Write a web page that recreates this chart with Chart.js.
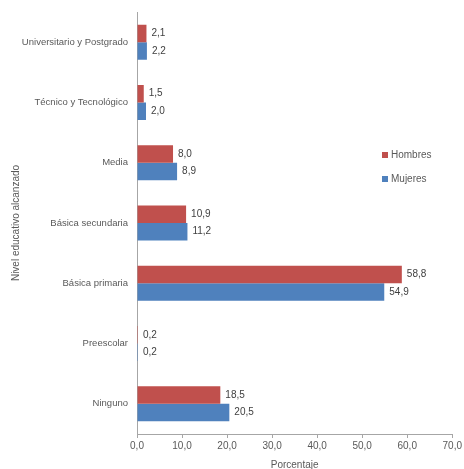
<!DOCTYPE html>
<html>
<head>
<meta charset="utf-8">
<script src="https://cdn.jsdelivr.net/npm/chart.js@4"></script>
<style>
  html, body { margin: 0; padding: 0; background: #fff; }
  #wrap { width: 464px; height: 469px; }
</style>
</head>
<body>
<div id="wrap"><canvas id="myChart" width="464" height="469"></canvas></div>
<script>
// datos
var niveles = ["Universitario y Postgrado", "Técnico y Tecnológico", "Media", "Básica secundaria", "Básica primaria", "Preescolar", "Ninguno"];
var hombres = [2.1, 1.5, 8.0, 10.9, 58.8, 0.2, 18.5];
var mujeres = [2.2, 2.0, 8.9, 11.2, 54.9, 0.2, 20.5];
var ticksX = ["0,0", "10,0", "20,0", "30,0", "40,0", "50,0", "60,0", "70,0"];

var fuente = "'Liberation Sans', sans-serif";
var gris = "#595959";

function coma(v) {
  return v.toFixed(1).replace(".", ",");
}

// etiquetas de valor al final de cada barra
var etiquetas = {
  id: "etiquetas",
  afterDatasetsDraw: function (chart) {
    var ctx = chart.ctx;
    ctx.save();
    ctx.font = "10px " + fuente;
    ctx.fillStyle = "#404040";
    ctx.textAlign = "left";
    ctx.textBaseline = "middle";
    chart.data.datasets.forEach(function (ds, i) {
      chart.getDatasetMeta(i).data.forEach(function (bar, j) {
        ctx.fillText(coma(ds.data[j]), bar.x + 5, bar.y);
      });
    });
    ctx.restore();
  }
};

// leyenda dentro del area
var leyenda = {
  id: "leyenda",
  afterDraw: function (chart) {
    var ctx = chart.ctx;
    ctx.save();
    ctx.font = "10px " + fuente;
    ctx.textBaseline = "middle";
    chart.data.datasets.forEach(function (ds, i) {
      var y = 155 + i * 24;
      ctx.fillStyle = ds.backgroundColor;
      ctx.fillRect(382, y - 3, 6, 6);
      ctx.fillStyle = gris;
      ctx.fillText(ds.label, 391, y);
    });
    ctx.restore();
  }
};

var ctx = document.getElementById("myChart").getContext("2d");
var myChart = new Chart(ctx, {
  type: "bar",
  data: {
    labels: niveles,
    datasets: [
      { label: "Hombres", data: hombres, backgroundColor: "#c0504d" },
      { label: "Mujeres", data: mujeres, backgroundColor: "#4f81bd" }
    ]
  },
  options: {
    indexAxis: "y",
    responsive: false,
    animation: false,
    categoryPercentage: 0.58,
    barPercentage: 1.0,
    layout: { padding: { top: 12, right: 5, bottom: 0, left: 0 } },
    plugins: {
      legend: { display: false },
      tooltip: { enabled: false }
    },
    scales: {
      x: {
        min: 0,
        max: 70,
        ticks: {
          stepSize: 10,
          color: gris,
          font: { size: 10, family: fuente },
          padding: 2,
          callback: function (v, i) { return ticksX[i]; }
        },
        grid: { drawOnChartArea: false, drawTicks: true, tickLength: 4, color: "#a6a6a6" },
        border: { color: "#a6a6a6" },
        title: {
          display: true,
          text: "Porcentaje",
          color: gris,
          font: { size: 10, family: fuente },
          padding: { top: 0, bottom: -2 }
        },
        afterFit: function (s) { s.height = 35; }
      },
      y: {
        ticks: {
          color: gris,
          font: { size: 9.5, family: fuente },
          padding: 1
        },
        grid: { display: false },
        border: { display: true, color: "#a6a6a6" },
        title: {
          display: true,
          text: "Nivel educativo alcanzado",
          color: gris,
          font: { size: 10, family: fuente },
          padding: { top: 10, bottom: 0 }
        },
        afterFit: function (s) { s.width = 137; }
      }
    }
  },
  plugins: [etiquetas, leyenda]
});
</script>
</body>
</html>
